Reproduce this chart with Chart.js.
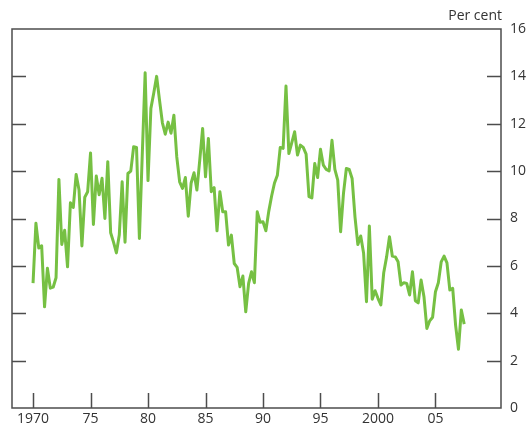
<!DOCTYPE html>
<html>
<head>
<meta charset="utf-8">
<script src="https://cdn.jsdelivr.net/npm/chart.js@4"></script>
<style>
html,body{margin:0;padding:0;background:#fff;}
#wrap{width:527px;height:427px;}
</style>
</head>
<body>
<div id="wrap"><canvas id="c" width="527" height="427"></canvas></div>
<script>
// Quarterly series starting 1970 Q1
const startYear = 1970;
const values = [
  5.27, 7.8, 6.75, 6.85, 4.27, 5.9, 5.06, 5.1, 5.5, 9.65,
  6.9, 7.5, 5.96, 8.66, 8.47, 9.86, 9.2, 6.84, 8.9, 9.13,
  10.77, 7.75, 9.79, 9.0, 9.7, 8.0, 10.4, 7.4, 7.0, 6.55,
  7.3, 9.55, 7.0, 9.9, 10.0, 11.03, 11.0, 7.16, 10.7, 14.15,
  9.6, 12.65, 13.3, 14.0, 13.0, 12.04, 11.56, 12.07, 11.6, 12.36,
  10.6, 9.55, 9.27, 9.73, 8.1, 9.5, 9.93, 9.2, 10.46, 11.8,
  9.76, 11.38, 9.13, 9.3, 7.48, 9.13, 8.28, 8.28, 6.88, 7.3,
  6.1, 5.94, 5.12, 5.57, 4.06, 5.26, 5.75, 5.29, 8.28, 7.84,
  7.86, 7.48, 8.3, 8.95, 9.5, 9.83, 11.0, 10.96, 13.59, 10.74,
  11.19, 11.66, 10.68, 11.1, 11.0, 10.72, 8.92, 8.87, 10.32, 9.73,
  10.92, 10.25, 10.07, 10.01, 11.3, 10.07, 9.62, 7.44, 9.06, 10.11,
  10.07, 9.69, 8.07, 6.9, 7.26, 6.53, 4.49, 7.68, 4.59, 4.95,
  4.63, 4.35, 5.71, 6.38, 7.23, 6.41, 6.38, 6.17, 5.19, 5.29,
  5.26, 4.77, 5.75, 4.53, 4.44, 5.4, 4.7, 3.36, 3.68, 3.83,
  4.91, 5.29, 6.17, 6.41, 6.13, 4.98, 5.05, 3.5, 2.48, 4.14,
  3.54
];
const quarters = values.map((v, i) => startYear + i * 0.25);
const xTickYears = [1970, 1975, 1980, 1985, 1990, 1995, 2000, 2005];
const xTickLabels = ['1970', '75', '80', '85', '90', '95', '2000', '05'];
const yTicks = [0, 2, 4, 6, 8, 10, 12, 14, 16];
const unitLabel = 'Per cent';

const frameColor = '#4d4d4d';
const textColor = '#333333';
const fontFamily = '"Open Sans", "Noto Sans", sans-serif';

const framePlugin = {
  id: 'frame',
  afterDraw(chart) {
    const {ctx, chartArea: a, scales} = chart;
    ctx.save();
    ctx.strokeStyle = frameColor;
    ctx.lineWidth = 1.5;
    ctx.strokeRect(a.left, a.top, a.right - a.left, a.bottom - a.top);
    const tl = 14;
    ctx.beginPath();
    scales.y.ticks.forEach(t => {
      if (t.value === 0 || t.value === 16) return;
      const y = Math.round(scales.y.getPixelForValue(t.value)) + 0.5;
      ctx.moveTo(a.left, y); ctx.lineTo(a.left + tl, y);
      ctx.moveTo(a.right, y); ctx.lineTo(a.right - tl, y);
    });
    scales.x.ticks.forEach(t => {
      const x = Math.round(scales.x.getPixelForValue(t.value)) + 0.5;
      ctx.moveTo(x, a.bottom); ctx.lineTo(x, a.bottom - tl - 1);
    });
    ctx.stroke();
    ctx.fillStyle = textColor;
    ctx.font = '14px ' + fontFamily;
    ctx.textAlign = 'right';
    ctx.textBaseline = 'middle';
    ctx.fillText(unitLabel, a.right + 1, 16);
    ctx.restore();
  }
};

new Chart(document.getElementById('c'), {
  type: 'line',
  data: {
    labels: quarters,
    datasets: [{
      data: values,
      borderColor: '#76c043',
      borderWidth: 3,
      pointRadius: 0,
      tension: 0,
      fill: false,
      borderJoinStyle: 'round'
    }]
  },
  options: {
    responsive: false,
    animation: false,
    devicePixelRatio: 1,
    layout: {padding: {top: 29, left: 12, right: 0, bottom: 0}},
    plugins: {legend: {display: false}, tooltip: {enabled: false}},
    scales: {
      x: {
        type: 'linear',
        min: 1968.17,
        max: 2010.7,
        afterBuildTicks(scale) { scale.ticks = xTickYears.map(v => ({value: v})); },
        afterFit(scale) { scale.height = 19; },
        grid: {display: false, drawTicks: false},
        border: {display: false},
        ticks: {
          autoSkip: false,
          maxRotation: 0,
          padding: 3,
          color: textColor,
          font: {family: fontFamily, size: 14},
          callback(v) { const k = xTickYears.indexOf(v); return k >= 0 ? xTickLabels[k] : ''; }
        }
      },
      y: {
        position: 'right',
        min: 0,
        max: 16,
        afterBuildTicks(scale) { scale.ticks = yTicks.map(v => ({value: v})); },
        afterFit(scale) { scale.width = 26; },
        grid: {display: false, drawTicks: false},
        border: {display: false},
        ticks: {
          padding: 9,
          color: textColor,
          font: {family: fontFamily, size: 14}
        }
      }
    }
  },
  plugins: [framePlugin]
});
</script>
</body>
</html>
